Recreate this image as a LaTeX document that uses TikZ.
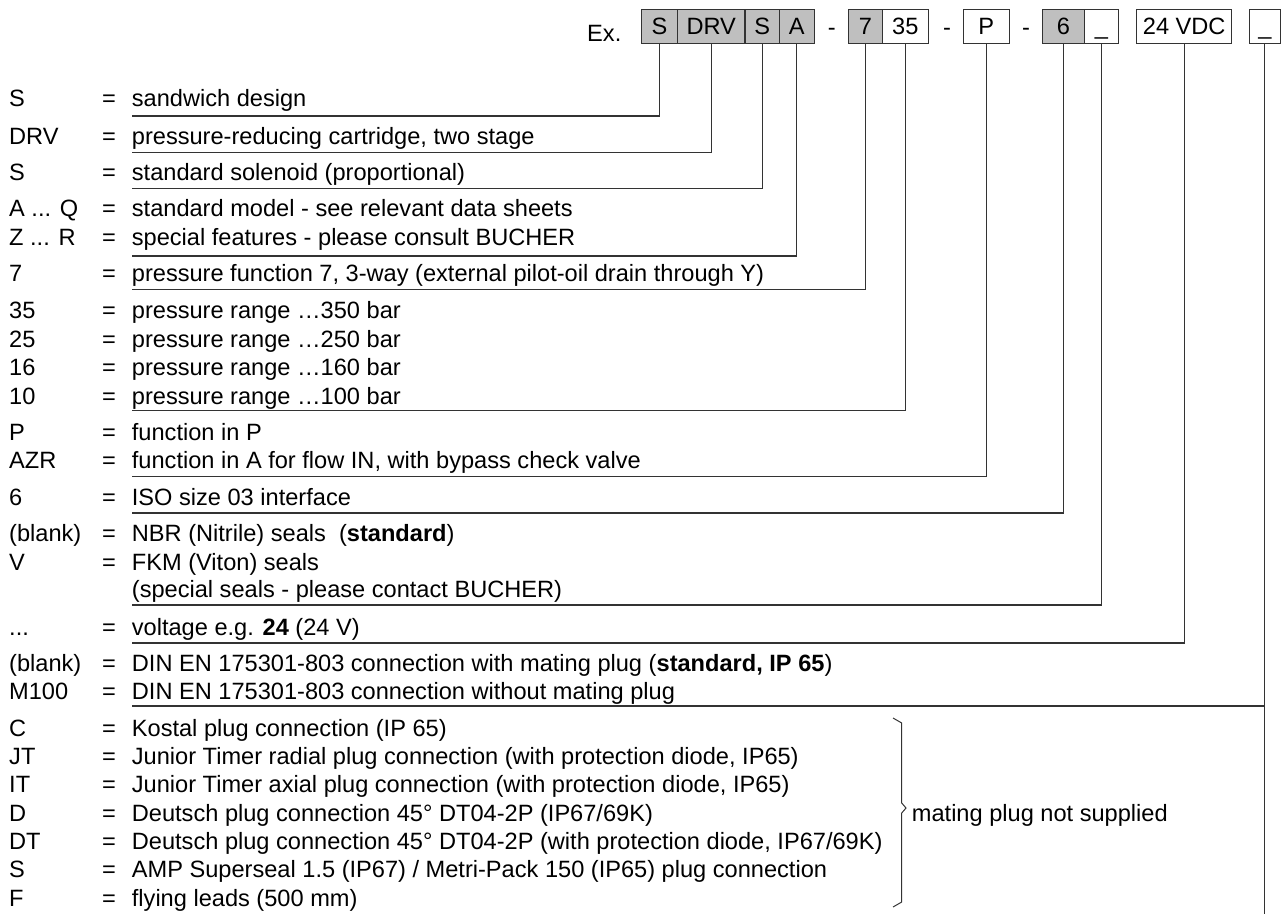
\documentclass[tikz,border=0pt]{standalone}
\usepackage{fontspec}
\setmainfont{Liberation Sans}

\begin{document}
\begin{tikzpicture}[x=1pt,y=-1pt,
  every node/.style={inner sep=0pt,anchor=base west,font=\fontsize{23.6}{28}\selectfont},
  lead/.style={draw=black!80,line width=1.2pt},
  graybox/.style={draw=black!80,line width=1.2pt,fill=black!25,anchor=center,
    minimum height=34,text height=17,text depth=0},
  whitebox/.style={graybox,fill=white}]
\useasboundingbox (0,0) rectangle (1281,914);
% type code
\node (ex) at (587,41.7) {Ex.};
\node[graybox,minimum width=35.6] (bS1) at (659.5,26.3) {S};
\node[graybox,minimum width=67.7] (bDRV) at (711.2,26.3) {DRV};
\node[graybox,minimum width=34.3] (bS2) at (762.2,26.3) {S};
\node[graybox,minimum width=35] (bA) at (796.8,26.3) {A};
\node[anchor=base] (dash1) at (831.7,35.5) {-};
\node[graybox,minimum width=33.6] (b7) at (865.5,26.3) {7};
\node[whitebox,minimum width=46] (b35) at (905.3,26.3) {35};
\node[anchor=base] (dash2) at (947,35.5) {-};
\node[whitebox,minimum width=46] (bP) at (986.3,26.3) {P};
\node[anchor=base] (dash3) at (1026,35.5) {-};
\node[graybox,minimum width=41.6] (b6) at (1063.5,26.3) {6};
\node[whitebox,minimum width=34] (bSeal) at (1101.3,26.3) {\_};
\node[whitebox,minimum width=95] (bVolt) at (1184.2,26.3) {24 VDC};
\node[whitebox,minimum width=31] (bPlug) at (1264.8,26.3) {\_};

% key
\node (c1) at (9,106.8) {S};        \node (q1) at (102,106.8) {=}; \node (d1) at (131.7,106.8) {sandwich design};
\node (c2) at (9,144.5) {DRV};      \node (q2) at (102,144.5) {=}; \node (d2) at (131.7,144.5) {pressure-reducing cartridge, two stage};
\node (c3) at (9,180.2) {S};        \node (q3) at (102,180.2) {=}; \node (d3) at (131.7,180.2) {standard solenoid (proportional)};
\node (c4) at (9,216.8) {A ... Q};  \node (q4) at (102,216.8) {=}; \node (d4) at (131.7,216.8) {standard model - see relevant data sheets};
\node (c5) at (9,245.2) {Z ... R};  \node (q5) at (102,245.2) {=}; \node (d5) at (131.7,245.2) {special features - please consult BUCHER};
\node (c6) at (9,281.8) {7};        \node (q6) at (102,281.8) {=}; \node (d6) at (131.7,281.8) {pressure function 7, 3-way (external pilot-oil drain through Y)};
\node (c7) at (9,318.5) {35};       \node (q7) at (102,318.5) {=}; \node (d7) at (131.7,318.5) {pressure range …350 bar};
\node (c8) at (9,347.8) {25};       \node (q8) at (102,347.8) {=}; \node (d8) at (131.7,347.8) {pressure range …250 bar};
\node (c9) at (9,375.8) {16};       \node (q9) at (102,375.8) {=}; \node (d9) at (131.7,375.8) {pressure range …160 bar};
\node (c10) at (9,404.2) {10};      \node (q10) at (102,404.2) {=}; \node (d10) at (131.7,404.2) {pressure range …100 bar};
\node (c11) at (9,440.2) {P};       \node (q11) at (102,440.2) {=}; \node (d11) at (131.7,440.2) {function in P};
\node (c12) at (9,468.5) {AZR};     \node (q12) at (102,468.5) {=}; \node (d12) at (131.7,468.5) {function in A for flow IN, with bypass check valve};
\node (c13) at (9,505.2) {6};       \node (q13) at (102,505.2) {=}; \node (d13) at (131.7,505.2) {ISO size 03 interface};
\node (c14) at (9,541.8) {(blank)}; \node (q14) at (102,541.8) {=}; \node (d14) at (131.7,541.8) {NBR (Nitrile) seals\ \ (\textbf{standard})};
\node (c15) at (9,570.2) {V};       \node (q15) at (102,570.2) {=}; \node (d15) at (131.7,570.2) {FKM (Viton) seals};
\node (d16) at (131.7,597.8) {(special seals - please contact BUCHER)};
\node (c17) at (9,635) {...};       \node (q17) at (102,635) {=}; \node (d17) at (131.7,635) {voltage e.g. \textbf{24} (24 V)};
\node (c18) at (9,671.8) {(blank)}; \node (q18) at (102,671.8) {=}; \node (d18) at (131.7,671.8) {DIN EN 175301-803 connection with mating plug (\textbf{standard, IP 65})};
\node (c19) at (9,699.2) {M100};    \node (q19) at (102,699.2) {=}; \node (d19) at (131.7,699.2) {DIN EN 175301-803 connection without mating plug};
\node (c20) at (9,736.8) {C};       \node (q20) at (102,736.8) {=}; \node (d20) at (131.7,736.8) {Kostal plug connection (IP 65)};
\node (c21) at (9,764.5) {JT};      \node (q21) at (102,764.5) {=}; \node (d21) at (131.7,764.5) {Junior Timer radial plug connection (with protection diode, IP65)};
\node (c22) at (9,792.8) {IT};      \node (q22) at (102,792.8) {=}; \node (d22) at (131.7,792.8) {Junior Timer axial plug connection (with protection diode, IP65)};
\node (c23) at (9,821.2) {D};       \node (q23) at (102,821.2) {=}; \node (d23) at (131.7,821.2) {Deutsch plug connection 45° DT04-2P (IP67/69K)};
\node (c24) at (9,849.5) {DT};      \node (q24) at (102,849.5) {=}; \node (d24) at (131.7,849.5) {Deutsch plug connection 45° DT04-2P (with protection diode, IP67/69K)};
\node (c25) at (9,877.8) {S};       \node (q25) at (102,877.8) {=}; \node (d25) at (131.7,877.8) {AMP Superseal 1.5 (IP67) / Metri-Pack 150 (IP65) plug connection};
\node (c26) at (9,906.2) {F};       \node (q26) at (102,906.2) {=}; \node (d26) at (131.7,906.2) {flying leads (500 mm)};

% leader lines
\coordinate (u1) at (131.7,116);
\coordinate (u2) at (131.7,152.7);
\coordinate (u3) at (131.7,188.3);
\coordinate (u5) at (131.7,256);
\coordinate (u6) at (131.7,289.3);
\coordinate (u10) at (131.7,410.5);
\coordinate (u12) at (131.7,476.5);
\coordinate (u13) at (131.7,513);
\coordinate (u16) at (131.7,605);
\coordinate (u17) at (131.7,643);
\coordinate (u19) at (131.7,706);
\coordinate (foot) at (1264.8,914);
\draw[lead] (bS1.south) |- (u1);
\draw[lead] (bDRV.south) |- (u2);
\draw[lead] (bS2.south) |- (u3);
\draw[lead] (bA.south) |- (u5);
\draw[lead] (b7.south) |- (u6);
\draw[lead] (b35.south) |- (u10);
\draw[lead] (bP.south) |- (u12);
\draw[lead] (b6.south) |- (u13);
\draw[lead] (bSeal.south) |- (u16);
\draw[lead] (bVolt.south) |- (u17);
\draw[lead] (bPlug.south) -- (foot);
\draw[lead] (bPlug.south |- u19) -- (u19);

% brace
\draw[black!80,line width=1pt] (893,718) -- (901.7,723) -- (901.7,803) -- (906,808)
  -- (901.7,813) -- (901.7,902) -- (893,907);
\node (mating) at (911.7,821) {mating plug not supplied};
\end{tikzpicture}
\end{document}
